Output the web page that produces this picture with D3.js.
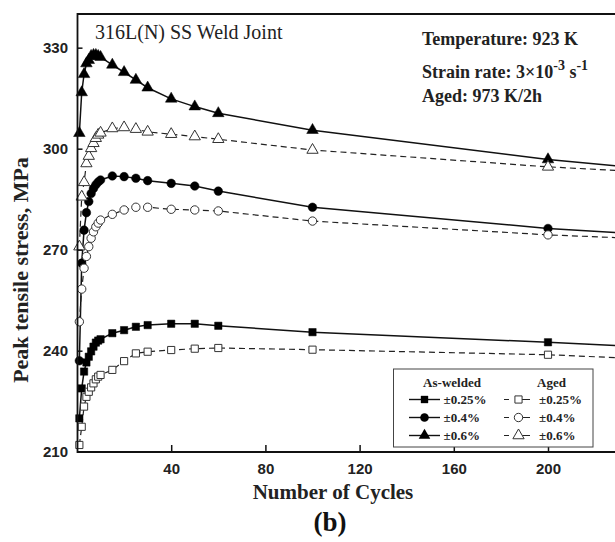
<!DOCTYPE html>
<html><head><meta charset="utf-8">
<script src="https://cdn.jsdelivr.net/npm/d3@7"></script>
<style>body{margin:0;background:#fff}</style>
</head><body>
<svg id="chart" width="615" height="542"></svg>
<script>
// ---- data ----
const cycles = [1,2,3,4,5,6,7,8,9,10,15,20,25,30,40,50,60,100,200,250];
const asWelded025 = [219.9,228.8,233.8,236.5,238.2,239.8,241.2,242.4,243.0,243.4,245.2,246.1,247.1,247.6,248.0,248.0,247.4,245.5,242.5,240.8];
const asWelded04  = [237.0,266.0,275.8,281.0,284.3,286.7,288.2,289.3,290.1,290.7,291.9,291.7,291.2,290.5,289.7,288.9,287.4,282.6,276.3,274.2];
const asWelded06  = [304.6,316.7,322.1,325.3,326.3,327.5,327.8,327.8,327.5,327.2,324.9,322.7,320.4,318.1,314.8,312.5,310.5,305.5,296.8,293.5];
const aged025 = [212.0,217.4,223.4,226.3,227.8,229.1,230.3,231.5,232.3,232.8,234.3,236.9,239.2,239.7,240.2,240.6,240.8,240.3,238.8,237.3];
const aged04  = [248.6,258.3,264.5,268.0,270.9,273.4,275.3,276.8,277.9,278.8,280.5,281.8,282.6,282.6,282.0,281.8,281.5,278.5,274.4,273.0];
const aged06  = [270.9,285.7,290.0,295.6,297.8,300.1,301.6,303.1,304.1,304.7,306.0,306.3,305.8,305.0,304.3,303.6,302.8,299.6,294.6,292.8];
const xTicks = [40,80,120,160,200];
const yTicks = [210,240,270,300,330];
const strainLabels = ["\u00B10.25%","\u00B10.4%","\u00B10.6%"];

const series = [
  {name:"aw025", vals:asWelded025, shape:"square",   filled:true},
  {name:"aw04",  vals:asWelded04,  shape:"circle",   filled:true},
  {name:"aw06",  vals:asWelded06,  shape:"triangle", filled:true},
  {name:"ag025", vals:aged025,     shape:"square",   filled:false},
  {name:"ag04",  vals:aged04,      shape:"circle",   filled:false},
  {name:"ag06",  vals:aged06,      shape:"triangle", filled:false}
];

const svg = d3.select('#chart');
const x = d3.scaleLinear().domain([0,240]).range([77, 642.2]);
const y = d3.scaleLinear().domain([210,340]).range([451.7, 14]);

const symType = {square:d3.symbolSquare, circle:d3.symbolCircle, triangle:d3.symbolTriangle};
const symSize = {square:54, circle:58, triangle:58};
function symPath(shape, scale=1){ return d3.symbol().type(symType[shape]).size(symSize[shape]*scale)(); }

// ---- lines ----
const line = d3.line().x(d=>x(d[0])).y(d=>y(d[1]));
const gData = svg.append('g');
series.forEach(s=>{
  const pts = cycles.map((c,i)=>[c,s.vals[i]]);
  gData.append('path').attr('d',line(pts)).attr('fill','none')
    .attr('stroke', s.filled ? '#111' : '#222')
    .attr('stroke-width', s.filled ? 1.5 : 1.2)
    .attr('stroke-dasharray', s.filled ? null : '6,4');
});
// ---- markers ----
series.forEach(s=>{
  gData.append('g').selectAll('path').data(cycles.map((c,i)=>[c,s.vals[i]])).join('path')
    .attr('transform', d=>`translate(${x(d[0])},${y(d[1])})`)
    .attr('d', symPath(s.shape, s.filled?1:0.95))
    .attr('fill', s.filled ? '#000' : '#fff')
    .attr('stroke', s.filled ? '#000' : '#333')
    .attr('stroke-width', s.filled ? 0.5 : 1);
});

// ---- axes ----
const yAxis = d3.axisLeft(y).tickValues(yTicks).tickSizeInner(-5).tickSizeOuter(0).tickPadding(9.5).tickFormat(d3.format('d'));
const gy = svg.append('g').attr('transform','translate(77.5,0)').call(yAxis);
const xAxis = d3.axisBottom(x).tickValues(xTicks).tickSizeInner(-7).tickSizeOuter(0).tickPadding(11).tickFormat(d3.format('d'));
const gx = svg.append('g').attr('transform','translate(0,452)').call(xAxis);
[gx,gy].forEach(g=>{
  g.select('.domain').remove();
  g.selectAll('line').attr('stroke','#111').attr('stroke-width',1.5);
  g.selectAll('text').attr('font-family','"Liberation Sans", Arial, sans-serif').attr('font-weight','bold').attr('font-size',15).attr('fill','#222');
});
// frame
svg.append('path').attr('d',`M642.2,14 H77.5 V452 H642.2`).attr('fill','none').attr('stroke','#111').attr('stroke-width',1.8);

// ---- texts ----
const serif = '"Liberation Serif","Times New Roman",serif';
svg.append('text').attr('x',95).attr('y',39).attr('font-family',serif).attr('font-size',20).attr('fill','#222').text('316L(N) SS Weld Joint');
svg.append('text').attr('x',422).attr('y',45).attr('font-family',serif).attr('font-weight','bold').attr('font-size',18).attr('fill','#222').text('Temperature: 923 K');
const sr = svg.append('text').attr('x',422).attr('y',78).attr('font-family',serif).attr('font-weight','bold').attr('font-size',18).attr('fill','#222');
sr.append('tspan').text('Strain rate: 3\u00D710');
sr.append('tspan').attr('dy',-8).attr('font-size',14).text('-3');
sr.append('tspan').attr('dy',8).text(' s');
sr.append('tspan').attr('dy',-8).attr('font-size',14).text('-1');
svg.append('text').attr('x',422).attr('y',102).attr('font-family',serif).attr('font-weight','bold').attr('font-size',18).attr('fill','#222').text('Aged: 973 K/2h');

svg.append('text').attr('transform','translate(28,270) rotate(-90)').attr('text-anchor','middle')
  .attr('font-family',serif).attr('font-weight','bold').attr('font-size',22).attr('fill','#222').text('Peak tensile stress, MPa');
svg.append('text').attr('x',333).attr('y',499).attr('text-anchor','middle')
  .attr('font-family',serif).attr('font-weight','bold').attr('font-size',21).attr('fill','#222').text('Number of Cycles');
svg.append('text').attr('x',330).attr('y',531).attr('text-anchor','middle')
  .attr('font-family',serif).attr('font-weight','bold').attr('font-size',27).attr('fill','#111').text('(b)');

// ---- legend ----
const lg = svg.append('g');
lg.append('rect').attr('x',393.5).attr('y',369).attr('width',199.5).attr('height',78).attr('fill','#fff').attr('stroke','#444').attr('stroke-width',1);
lg.append('text').attr('x',452).attr('y',387).attr('text-anchor','middle').attr('font-family',serif).attr('font-weight','bold').attr('font-size',13).attr('fill','#222').text('As-welded');
lg.append('text').attr('x',551.5).attr('y',387).attr('text-anchor','middle').attr('font-family',serif).attr('font-weight','bold').attr('font-size',13).attr('fill','#222').text('Aged');
const rowY = [399.5, 417.5, 435.5];
const shapes = ['square','circle','triangle'];
shapes.forEach((sh,i)=>{
  const yy = rowY[i];
  lg.append('line').attr('x1',409).attr('x2',440).attr('y1',yy).attr('y2',yy).attr('stroke','#111').attr('stroke-width',1.4);
  lg.append('path').attr('transform',`translate(424.5,${yy})`).attr('d',symPath(sh)).attr('fill','#000');
  lg.append('text').attr('x',443.5).attr('y',yy+4.5).attr('font-family',serif).attr('font-weight','bold').attr('font-size',13).attr('fill','#222').text(strainLabels[i]);
  lg.append('line').attr('x1',504).attr('x2',530).attr('y1',yy).attr('y2',yy).attr('stroke','#222').attr('stroke-width',1.2).attr('stroke-dasharray','5,12,9');
  lg.append('path').attr('transform',`translate(518.5,${yy})`).attr('d',symPath(sh,0.95)).attr('fill','#fff').attr('stroke','#333').attr('stroke-width',1);
  lg.append('text').attr('x',539).attr('y',yy+4.5).attr('font-family',serif).attr('font-weight','bold').attr('font-size',13).attr('fill','#222').text(strainLabels[i]);
});
</script>
</body></html>
